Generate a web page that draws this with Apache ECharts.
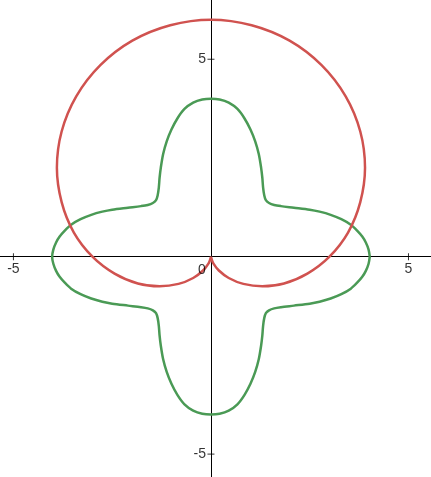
<!DOCTYPE html>
<html>
<head>
<meta charset="utf-8">
<script src="https://cdn.jsdelivr.net/npm/echarts@6/dist/echarts.min.js"></script>
<style>html,body{margin:0;padding:0;background:#fff}#chart{width:431px;height:477px}</style>
</head>
<body>
<div id="chart"></div>
<script>
// tick values / labels
const xTickValues = [-5, 5];
const yTickValues = [-5, 5];
const originLabel = '0';

// red curve (cardioid-like): [x, y]
const redCurve = [
  [0, 0], [0.01, -0.04], [0.06, -0.17], [0.20, -0.35], [0.45, -0.54], [0.82, -0.69],
  [1.30, -0.75], [1.85, -0.68], [2.44, -0.43], [3.00, 0], [3.47, 0.61], [3.78, 1.38],
  [3.90, 2.25], [3.78, 3.17], [3.41, 4.06], [2.80, 4.85], [1.99, 5.47], [1.03, 5.86],
  [0, 6.00], [-1.03, 5.86], [-1.99, 5.47], [-2.80, 4.85], [-3.41, 4.06], [-3.78, 3.17],
  [-3.90, 2.25], [-3.78, 1.38], [-3.47, 0.61], [-3.00, 0], [-2.44, -0.43], [-1.85, -0.68],
  [-1.30, -0.75], [-0.82, -0.69], [-0.45, -0.54], [-0.20, -0.35], [-0.06, -0.17], [-0.01, -0.04], [0, 0]
];

// green curve (four lobes): [x, y]
const greenCurve = [
  [4.02, 0], [3.99, 0.18], [3.92, 0.36], [3.83, 0.51], [3.70, 0.66], [3.54, 0.81], [3.30, 0.95],
  [3.03, 1.06], [2.75, 1.14], [2.50, 1.19], [2.10, 1.24], [1.77, 1.28], [1.60, 1.31], [1.47, 1.36],
  [1.39, 1.43], [1.35, 1.55], [1.32, 1.75], [1.30, 2.00], [1.27, 2.25], [1.21, 2.60], [1.12, 2.92],
  [1.00, 3.22], [0.85, 3.50], [0.67, 3.74], [0.45, 3.90], [0.22, 3.98], [0, 4.00],
  [-0.22, 3.98], [-0.45, 3.90], [-0.67, 3.74], [-0.85, 3.50], [-1.00, 3.22], [-1.12, 2.92],
  [-1.21, 2.60], [-1.27, 2.25], [-1.30, 2.00], [-1.32, 1.75], [-1.35, 1.55], [-1.39, 1.43],
  [-1.47, 1.36], [-1.60, 1.31], [-1.77, 1.28], [-2.10, 1.24], [-2.50, 1.19], [-2.75, 1.14],
  [-3.03, 1.06], [-3.30, 0.95], [-3.54, 0.81], [-3.70, 0.66], [-3.83, 0.51], [-3.92, 0.36],
  [-3.99, 0.18], [-4.02, 0],
  [-3.99, -0.18], [-3.92, -0.36], [-3.83, -0.51], [-3.70, -0.66], [-3.54, -0.81], [-3.30, -0.95],
  [-3.03, -1.06], [-2.75, -1.14], [-2.50, -1.19], [-2.10, -1.24], [-1.77, -1.28], [-1.60, -1.31],
  [-1.47, -1.36], [-1.39, -1.43], [-1.35, -1.55], [-1.32, -1.75], [-1.30, -2.00], [-1.27, -2.25],
  [-1.21, -2.60], [-1.12, -2.92], [-1.00, -3.22], [-0.85, -3.50], [-0.67, -3.74], [-0.45, -3.90],
  [-0.22, -3.98], [0, -4.00],
  [0.22, -3.98], [0.45, -3.90], [0.67, -3.74], [0.85, -3.50], [1.00, -3.22], [1.12, -2.92],
  [1.21, -2.60], [1.27, -2.25], [1.30, -2.00], [1.32, -1.75], [1.35, -1.55], [1.39, -1.43],
  [1.47, -1.36], [1.60, -1.31], [1.77, -1.28], [2.10, -1.24], [2.50, -1.19], [2.75, -1.14],
  [3.03, -1.06], [3.30, -0.95], [3.54, -0.81], [3.70, -0.66], [3.83, -0.51], [3.92, -0.36],
  [3.99, -0.18], [4.02, 0]
];

const X_MIN = -5.34, X_MAX = 5.57, Y_MIN = -5.58, Y_MAX = 6.5;

const chart = echarts.init(document.getElementById('chart'), null, {renderer: 'canvas'});
const font = {color: '#000', fontSize: 14, fontFamily: 'sans-serif'};

chart.setOption({
  animation: false,
  grid: {left: 0, right: 0, top: 0, bottom: 0, containLabel: false, outerBoundsMode: 'none'},
  xAxis: {
    type: 'value', position: 'bottom', min: X_MIN, max: X_MAX,
    splitLine: {show: false},
    axisLine: {show: true, onZero: true, lineStyle: {color: '#000', width: 1}},
    axisTick: {show: false}, axisLabel: {show: false}
  },
  yAxis: {
    type: 'value', position: 'left', min: Y_MIN, max: Y_MAX,
    splitLine: {show: false},
    axisLine: {show: true, onZero: true, lineStyle: {color: '#000', width: 1}},
    axisTick: {show: false}, axisLabel: {show: false}
  },
  series: [
    {type: 'line', name: 'green', data: greenCurve, showSymbol: false, smooth: 0.3, z: 2,
     lineStyle: {color: '#4a9a55', width: 2.5}, itemStyle: {color: '#4a9a55'}},
    {type: 'line', name: 'red', data: redCurve, showSymbol: false, smooth: 0.3, z: 3,
     lineStyle: {color: '#d0524f', width: 2.5}, itemStyle: {color: '#d0524f'}},
    // x-axis ticks + labels
    {type: 'scatter', name: 'xticks', data: xTickValues.map(v => [v, 0]), z: 5, silent: true,
     symbol: 'rect', symbolSize: [1, 7], itemStyle: {color: '#000'},
     label: Object.assign({show: true, position: 'bottom', distance: 2, formatter: p => String(p.value[0])}, font)},
    // y-axis ticks + labels
    {type: 'scatter', name: 'yticks', data: yTickValues.map(v => [0, v]), z: 5, silent: true,
     symbol: 'rect', symbolSize: [7, 1], itemStyle: {color: '#000'},
     label: Object.assign({show: true, position: 'left', distance: 1.5, formatter: p => String(p.value[1])}, font)},
    // origin label
    {type: 'scatter', name: 'origin', data: [[0, 0]], z: 5, silent: true,
     symbol: 'rect', symbolSize: 0, itemStyle: {color: 'rgba(0,0,0,0)'},
     label: Object.assign({show: true, position: 'bottom', distance: 6, offset: [-9, 0], formatter: () => originLabel}, font)}
  ]
});
</script>
</body>
</html>
